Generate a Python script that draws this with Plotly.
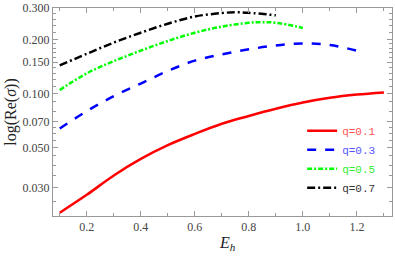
import plotly.graph_objects as go

# Data
x_q01 = [0.1, 0.2, 0.3, 0.4, 0.5, 0.6, 0.7, 0.8, 0.9, 1.0, 1.1, 1.2, 1.3]
y_q01 = [0.0217, 0.0273, 0.0350, 0.0433, 0.0517, 0.0597, 0.0680, 0.0752, 0.0825, 0.0894, 0.0950, 0.0990, 0.1017]

x_q03 = [0.1, 0.2, 0.3, 0.4, 0.5, 0.6, 0.7, 0.8, 0.9, 1.0, 1.1, 1.2]
y_q03 = [0.064, 0.080, 0.097, 0.114, 0.134, 0.153, 0.166, 0.177, 0.186, 0.191, 0.187, 0.174]

x_q05 = [0.1, 0.2, 0.3, 0.4, 0.5, 0.6, 0.7, 0.8, 0.85, 0.9, 1.0]
y_q05 = [0.105, 0.130, 0.152, 0.174, 0.197, 0.219, 0.237, 0.249, 0.251, 0.249, 0.233]

x_q07 = [0.1, 0.2, 0.3, 0.4, 0.5, 0.6, 0.7, 0.75, 0.8, 0.9]
y_q07 = [0.144, 0.167, 0.193, 0.219, 0.246, 0.270, 0.282, 0.285, 0.283, 0.274]

names = ["q=0.1", "q=0.3", "q=0.5", "q=0.7"]
colors = ["#ff0000", "#0000ff", "#00ff00", "#000000"]
label_colors = ["#ff5555", "#5555ff", "#33ee33", "#333333"]
dashes = ["solid", "dash", "5px,2px,2px,2px", "8px,3px,2px,3px"]

y_tickvals = [0.03, 0.05, 0.07, 0.1, 0.15, 0.2, 0.3]
y_ticktext = ["0.030", "0.050", "0.070", "0.100", "0.150", "0.200", "0.300"]
y_minor = [0.025, 0.035, 0.04, 0.045, 0.055, 0.06, 0.065, 0.08, 0.09,
           0.11, 0.12, 0.13, 0.14, 0.16, 0.17, 0.18, 0.19, 0.22, 0.24, 0.26, 0.28]
x_tickvals = [0.2, 0.4, 0.6, 0.8, 1.0, 1.2]
x_ticktext = ["0.2", "0.4", "0.6", "0.8", "1.0", "1.2"]

series = [(x_q01, y_q01), (x_q03, y_q03), (x_q05, y_q05), (x_q07, y_q07)]

fig = go.Figure()
for (xs, ys), n, c, lc, d in zip(series, names, colors, label_colors, dashes):
    fig.add_trace(go.Scatter(
        x=xs, y=ys, mode="lines",
        line=dict(color=c, width=2.5, dash=d, shape="spline", smoothing=1.0),
        name=f'<span style="color:{lc}">{n}</span>',
    ))

axis_color = "#999999"
fig.update_layout(
    width=395, height=256, autosize=False,
    margin=dict(l=53, r=3, t=8, b=40),
    paper_bgcolor="white", plot_bgcolor="white",
    font=dict(family="Liberation Serif", size=12, color="#333333"),
    legend=dict(
        x=0.735, y=0.48, xanchor="left", yanchor="top",
        font=dict(family="Liberation Mono", size=11),
        bgcolor="rgba(0,0,0,0)", itemwidth=30, tracegroupgap=0,
    ),
    xaxis=dict(
        range=[0.075, 1.33], tickmode="array", tickvals=x_tickvals, ticktext=x_ticktext,
        ticks="inside", ticklen=5, tickcolor=axis_color, showgrid=False, zeroline=False,
        showline=True, linecolor=axis_color, linewidth=1, mirror="ticks",
        minor=dict(ticks="inside", ticklen=3, tickcolor=axis_color, dtick=0.1, tick0=0.0),
        tickfont=dict(family="Liberation Serif", size=12, color="#444"),
        automargin=False,
    ),
    yaxis=dict(
        type="log", range=[-1.682, -0.5215], tickmode="array", tickvals=y_tickvals, ticktext=y_ticktext,
        ticks="inside", ticklen=5, tickcolor=axis_color, showgrid=False, zeroline=False,
        showline=True, linecolor=axis_color, linewidth=1, mirror="ticks",
        minor=dict(ticks="inside", ticklen=3, tickcolor=axis_color, tickmode="array", tickvals=y_minor),
        title=dict(text="log(Re(<i>σ</i>))", font=dict(family="Liberation Serif", size=16, color="#222"), standoff=1),
        tickfont=dict(family="Liberation Serif", size=12, color="#444"),
        automargin=False,
    ),
    annotations=[dict(
        text="<i>E<sub>h</sub></i>", xref="paper", yref="paper",
        x=0.516, y=-0.13, xanchor="center", yanchor="middle", showarrow=False,
        font=dict(family="Liberation Serif", size=16, color="#222"),
    )],
)

fig.write_html("out.html", config={"displayModeBar": False},
               post_script="document.body.style.margin='0';document.body.style.padding='0';")
